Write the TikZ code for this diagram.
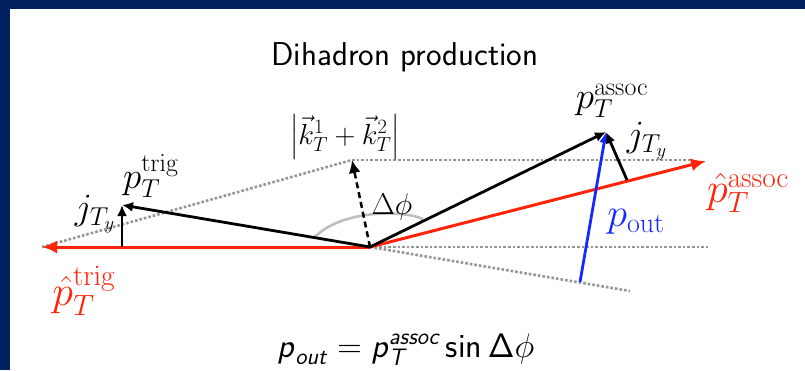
\RequirePackage{fix-cm}
\documentclass[tikz,border=0pt]{standalone}
\usepackage{amsmath}
\usetikzlibrary{arrows.meta}
\definecolor{navy}{RGB}{0,32,96}
\definecolor{vred}{RGB}{255,36,10}
\definecolor{vblue}{RGB}{20,40,255}
\definecolor{dotgray}{RGB}{150,150,150}
\definecolor{arcgray}{RGB}{190,190,190}
\newcommand{\fsz}[1]{\fontsize{#1}{#1}\selectfont}
\newcommand{\sfsl}[1]{\textsf{\textsl{#1}}}
\begin{document}
\begin{tikzpicture}[x=1pt,y=-1pt,
  redvec/.style={draw=vred,line width=3pt,-{Latex[length=15pt,width=13pt]}},
  blackvec/.style={draw=black,line width=2.8pt,-{Latex[length=11pt,width=10pt]}},
  bluevec/.style={draw=vblue,line width=2.8pt,-{Latex[length=11pt,width=10pt]}},
  guide/.style={draw=dotgray,line width=2.6pt,dotted},
  sumvec/.style={draw=black,line width=2.5pt,dash pattern=on 6pt off 4pt,-{Latex[length=13pt,width=12pt]}},
  anglearc/.style={draw=arcgray,line width=2.6pt},
  lbl/.style={inner sep=0pt,font=\fsz{37}},
  redlbl/.style={inner sep=0pt,text=vred,font=\fsz{42}},
  sflbl/.style={inner sep=0pt,font=\fsz{33}\sffamily},
]
\useasboundingbox (0,0) rectangle (805,370);
\fill[white] (0,0) rectangle (805,370);
\fill[navy] (0,0) rectangle (805,9);
\fill[navy] (0,0) rectangle (10,370);

% points
\coordinate (O) at (370,247);
\coordinate (RL) at (42,247);
\coordinate (RR) at (706,161);
\coordinate (T) at (122,205);
\coordinate (Tf) at (122,247);
\coordinate (S) at (352,160);
\coordinate (Send) at (690,160);
\coordinate (A) at (606,132);
\coordinate (Af) at (627,180);
\coordinate (B) at (580,282);
\coordinate (H) at (710,247);
\coordinate (L) at (630,291);
\coordinate (arcL) at (315,237);
\coordinate (arcR) at (423,219);

% guide lines
\draw[guide] (RL) -- (S);
\draw[guide] (S) -- (Send);
\draw[guide] (O) -- (H);
\draw[guide] (O) -- (L);

% angle arc
\draw[anglearc] (arcL) .. controls (340,211) and (400,209) .. (arcR);

% red unit vectors
\draw[redvec] (O) -- (RL);
\draw[redvec] (O) -- (RR);

% black vectors
\draw[blackvec] (O) -- (T);
\draw[blackvec] (Tf) -- (T);
\draw[sumvec] (O) -- (S);
\draw[bluevec] (B) -- (A);
\draw[blackvec] (O) -- (A);
\draw[blackvec] (Af) -- (A);

% labels
\node[sflbl,anchor=base] (title) at (405,65) {Dihadron production};
\node[inner sep=0pt,font=\fsz{29}] (ksum) at (345,137) {$\left|\vec{k}_T^1+\vec{k}_T^2\right|$};
\node[lbl] (ptrig) at (151,176) {$p_T^{\mathrm{trig}}$};
\node[lbl] (jl) at (95,214) {$j_{T_y}$};
\node[inner sep=0pt,font=\fsz{30}] (dphi) at (392,207) {$\Delta\phi$};
\node[lbl] (passoc) at (612,101) {$p_T^{\mathrm{assoc}}$};
\node[lbl] (jr) at (647,141) {$j_{T_y}$};
\node[redlbl] (hassoc) at (748,193) {$\hat{p}_T^{\mathrm{assoc}}$};
\node[inner sep=0pt,text=vblue,font=\fsz{40}] (pout) at (636,222) {$p_{\mathrm{out}}$};
\node[redlbl] (htrig) at (84,291) {$\hat{p}_T^{\mathrm{trig}}$};
\node[sflbl,font=\fsz{34}\sffamily,anchor=base] (formula) at (406,357) {$\sfsl{p}_{\sfsl{out}} = \sfsl{p}_{\sfsl{T}}^{\sfsl{assoc}}\,\textsf{sin}\,\mathsf{\Delta}\phi$};
\end{tikzpicture}
\end{document}
